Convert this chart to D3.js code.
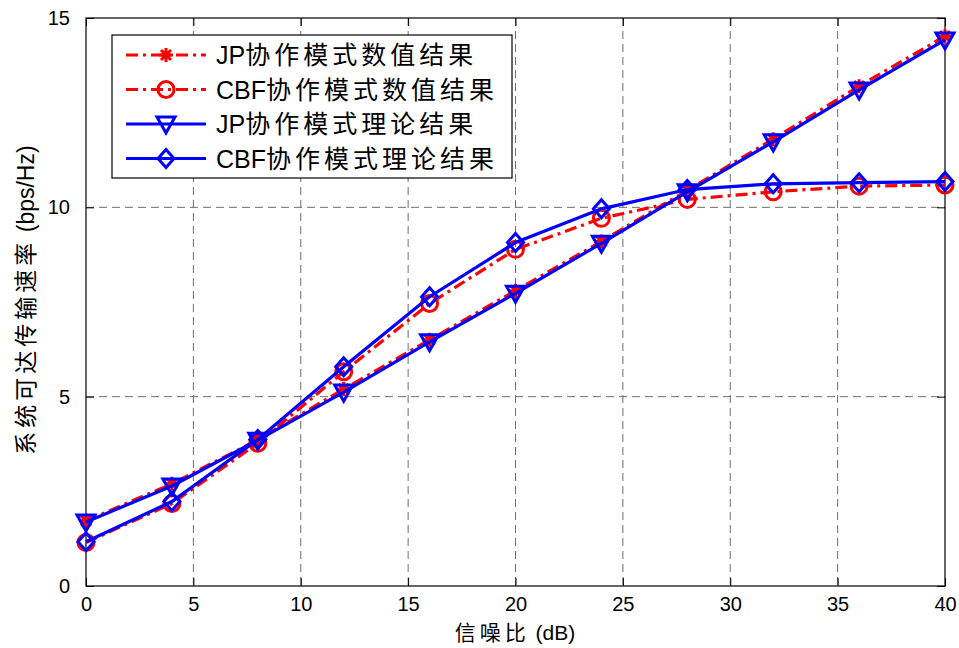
<!DOCTYPE html>
<html>
<head>
<meta charset="utf-8">
<script src="https://cdn.jsdelivr.net/npm/d3@7"></script>
<style>
body { margin: 0; background: #fff; }
svg { font-family: "Liberation Sans", Arial, sans-serif; }
</style>
</head>
<body>
<div id="chart"></div>
<script>
// data
var snr = [0, 4, 8, 12, 16, 20, 24, 28, 32, 36, 40];
var jpNum  = [1.72, 2.70, 3.86, 5.20, 6.50, 7.80, 9.10, 10.45, 11.80, 13.20, 14.52];
var cbfNum = [1.15, 2.18, 3.77, 5.66, 7.46, 8.89, 9.71, 10.21, 10.41, 10.56, 10.59];
var jpThe  = [1.69, 2.64, 3.85, 5.12, 6.45, 7.73, 9.05, 10.41, 11.73, 13.10, 14.42];
var cbfThe = [1.17, 2.23, 3.87, 5.79, 7.64, 9.07, 9.96, 10.47, 10.62, 10.65, 10.68];
var xTicks = [0, 5, 10, 15, 20, 25, 30, 35, 40];
var yTicks = [0, 5, 10, 15];
var seriesNames = ["JP协作模式数值结果", "CBF协作模式数值结果", "JP协作模式理论结果", "CBF协作模式理论结果"];

var W = 959, H = 648;
var margin = {top: 18, right: 14, bottom: 62, left: 86},
	width = W - margin.left - margin.right,
	height = H - margin.top - margin.bottom;

var svg = d3.select("#chart")
	.append("svg")
		.attr("width", W)
		.attr("height", H);

var g = svg.append("g")
	.attr("transform", "translate(" + margin.left + "," + margin.top + ")");

var x = d3.scaleLinear().domain([0, 40]).range([0, width]);
var y = d3.scaleLinear().domain([0, 15]).range([height, 0]);

// grid
g.append("g").selectAll("line")
	.data(xTicks.slice(1, -1))
	.enter().append("line")
		.attr("x1", function(d) { return x(d); })
		.attr("x2", function(d) { return x(d); })
		.attr("y1", 0).attr("y2", height)
		.attr("stroke", "#6e6e6e")
		.attr("stroke-dasharray", "8,5");
g.append("g").selectAll("line")
	.data(yTicks.slice(1, -1))
	.enter().append("line")
		.attr("y1", function(d) { return y(d); })
		.attr("y2", function(d) { return y(d); })
		.attr("x1", 0).attr("x2", width)
		.attr("stroke", "#6e6e6e")
		.attr("stroke-dasharray", "8,5");

// axes, ticks inward on all four sides
function styleAxis(sel) {
	sel.select(".domain").remove();
	sel.selectAll("line").attr("stroke", "#000");
	sel.selectAll("text").attr("font-size", 20).attr("fill", "#000")
		.attr("font-family", "Liberation Sans, Arial, sans-serif");
}
g.append("g")
	.attr("transform", "translate(0," + height + ")")
	.call(d3.axisBottom(x).tickValues(xTicks).tickSize(-8).tickPadding(11))
	.call(styleAxis);
g.append("g")
	.call(d3.axisTop(x).tickValues(xTicks).tickSize(-8).tickFormat(""))
	.call(styleAxis);
g.append("g")
	.call(d3.axisLeft(y).tickValues(yTicks).tickSize(-8).tickPadding(16))
	.call(styleAxis);
g.append("g")
	.attr("transform", "translate(" + width + ",0)")
	.call(d3.axisRight(y).tickValues(yTicks).tickSize(-8).tickFormat(""))
	.call(styleAxis);

g.append("rect")
	.attr("width", width).attr("height", height)
	.attr("fill", "none").attr("stroke", "#000").attr("stroke-width", 1.2);

// series
var series = [
	{vals: jpNum,  color: "#ff0000", dash: "12,5,3,5", marker: "star"},
	{vals: cbfNum, color: "#ff0000", dash: "12,5,3,5", marker: "circle"},
	{vals: jpThe,  color: "#0000ff", dash: null, marker: "tri"},
	{vals: cbfThe, color: "#0000ff", dash: null, marker: "diamond"}
];

var line = d3.line()
	.x(function(d) { return x(d[0]); })
	.y(function(d) { return y(d[1]); });

function drawMarker(sel, type, color) {
	if (type === "star") {
		sel.append("path")
			.attr("d", "M-7,0H7M0,-7V7M-5,-5L5,5M-5,5L5,-5")
			.attr("stroke", color).attr("stroke-width", 3).attr("fill", "none");
	} else if (type === "circle") {
		sel.append("circle").attr("r", 8)
			.attr("stroke", color).attr("stroke-width", 3).attr("fill", "none");
	} else if (type === "tri") {
		sel.append("path")
			.attr("d", "M-9,-7H9L0,9Z")
			.attr("stroke", color).attr("stroke-width", 3).attr("fill", "none");
	} else {
		sel.append("path")
			.attr("d", "M0,-9L8,0L0,9L-8,0Z")
			.attr("stroke", color).attr("stroke-width", 3).attr("fill", "none");
	}
}

series.forEach(function(s) {
	var pts = snr.map(function(v, i) { return [v, s.vals[i]]; });
	g.append("path")
		.datum(pts)
		.attr("d", line)
		.attr("fill", "none")
		.attr("stroke", s.color)
		.attr("stroke-width", 3.2)
		.attr("stroke-dasharray", s.dash);
	g.append("g").selectAll("g")
		.data(pts)
		.enter().append("g")
			.attr("transform", function(d) { return "translate(" + x(d[0]) + "," + y(d[1]) + ")"; })
			.each(function() { drawMarker(d3.select(this), s.marker, s.color); });
});

// legend
var leg = svg.append("g").attr("transform", "translate(112,35)");
leg.append("rect")
	.attr("width", 400).attr("height", 143)
	.attr("fill", "#fff").attr("stroke", "#000").attr("stroke-width", 1.2);
series.forEach(function(s, i) {
	var row = leg.append("g").attr("transform", "translate(0," + (20 + i * 34.5) + ")");
	row.append("line")
		.attr("x1", 14).attr("x2", 94)
		.attr("stroke", s.color).attr("stroke-width", 3.2)
		.attr("stroke-dasharray", s.dash);
	drawMarker(row.append("g").attr("transform", "translate(54,0)"), s.marker, s.color);
	var name = seriesNames[i];
	var latin = name.match(/^[A-Z]+/)[0];
	var t = row.append("text")
		.attr("x", 104).attr("y", 9)
		.attr("font-size", 25).attr("fill", "#000");
	t.append("tspan").text(latin);
	t.append("tspan")
		.attr("font-family", "Noto Sans CJK SC")
		.attr("letter-spacing", 4)
		.attr("font-size", 25)
		.text(name.slice(latin.length));
});

// axis titles
svg.append("text")
	.attr("x", 515).attr("y", 640)
	.attr("text-anchor", "middle")
	.attr("font-size", 21)
	.html('<tspan font-family="Noto Sans CJK SC" letter-spacing="4">信噪比</tspan> (dB)');

svg.append("text")
	.attr("transform", "translate(34,300) rotate(-90)")
	.attr("text-anchor", "middle")
	.attr("font-size", 23)
	.html('<tspan font-family="Noto Sans CJK SC" letter-spacing="4">系统可达传输速率</tspan> (bps/Hz)');
</script>
</body>
</html>
